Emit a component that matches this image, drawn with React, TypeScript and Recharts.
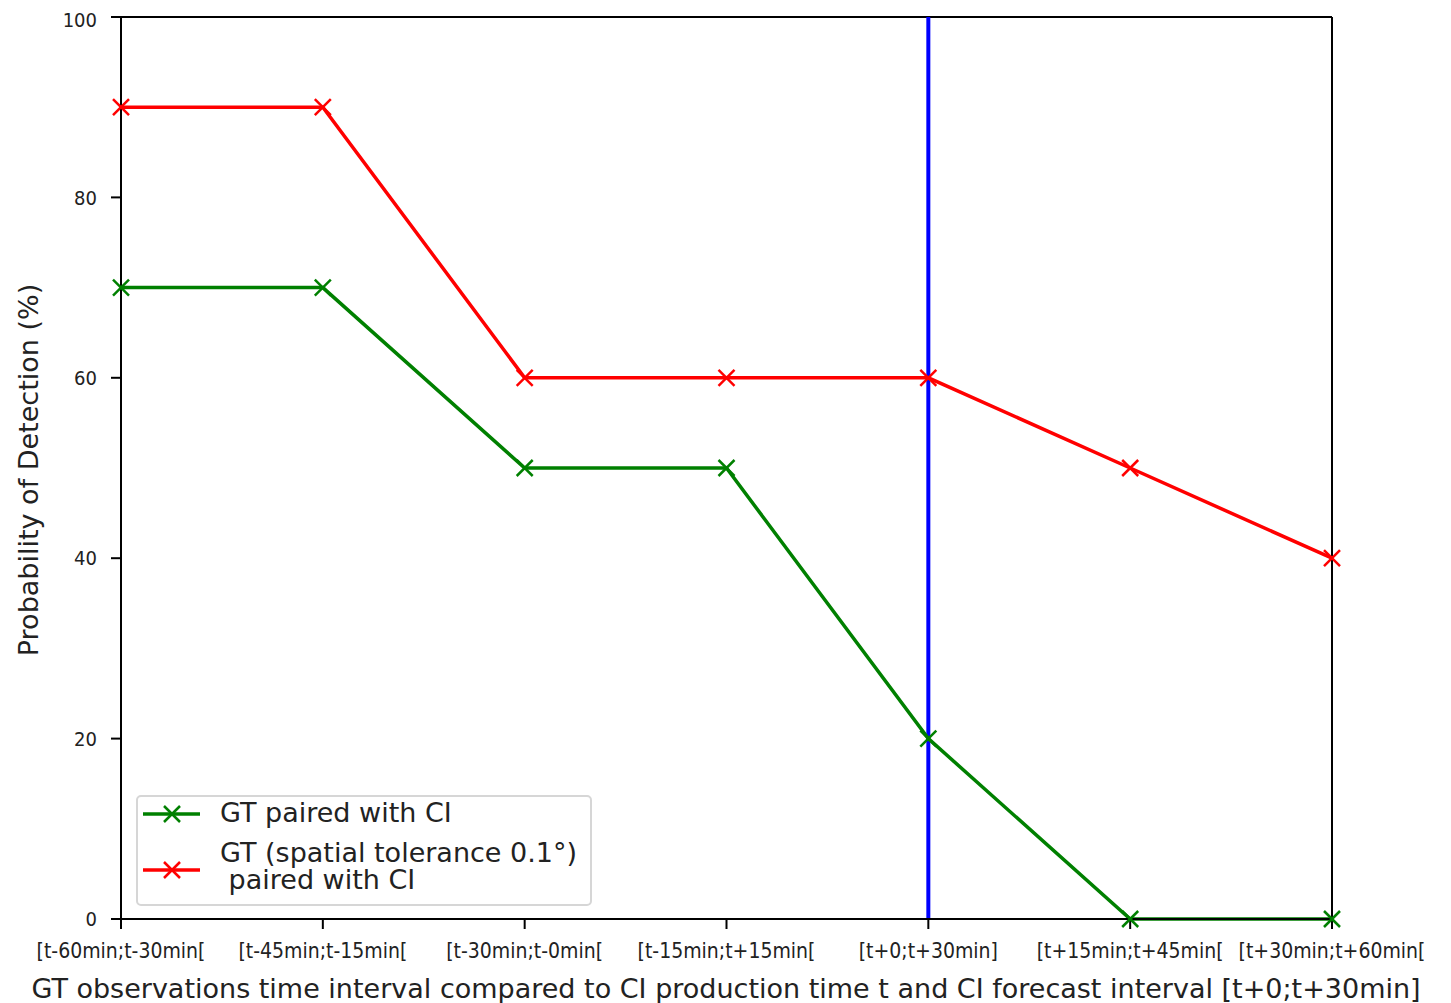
import React from 'react';
import { LineChart, Line, XAxis, YAxis, ReferenceLine } from 'recharts';

const intervals = [
  '[t-60min;t-30min[',
  '[t-45min;t-15min[',
  '[t-30min;t-0min[',
  '[t-15min;t+15min[',
  '[t+0;t+30min]',
  '[t+15min;t+45min[',
  '[t+30min;t+60min[',
];
const pairedWithCI = [70, 70, 50, 50, 20, 0, 0];
const toleranceWithCI = [90, 90, 60, 60, 60, 50, 40];
const yTicks = [0, 20, 40, 60, 80, 100];
const forecastStart = 4;

const data = intervals.map((label, i) => ({
  idx: i,
  label,
  paired: pairedWithCI[i],
  tolerance: toleranceWithCI[i],
}));

const GREEN = '#008000';
const RED = '#ff0000';
const BLUE = '#0000ff';
const TICK_FONT = '"DejaVu Sans Condensed", "Liberation Sans Narrow", "DejaVu Sans", sans-serif';
const MAIN_FONT = '"DejaVu Sans", sans-serif';

const Cross = ({ cx, cy, color }: any) => {
  if (cx == null || cy == null) return null;
  const s = 8;
  return (
    <g stroke={color} strokeWidth={2.5}>
      <line x1={cx - s} y1={cy - s} x2={cx + s} y2={cy + s} />
      <line x1={cx - s} y1={cy + s} x2={cx + s} y2={cy - s} />
    </g>
  );
};

// legend sits inside the axes, bottom-left, like matplotlib's loc="lower left"
const LegendBox = () => (
  <div
    style={{
      position: 'absolute',
      left: 128,
      top: 787,
      width: 456,
      height: 111,
      border: '2px solid #d6d6d6',
      borderRadius: 5,
      background: 'rgba(255,255,255,0.8)',
      fontFamily: MAIN_FONT,
      fontSize: 27,
      color: '#222',
      boxSizing: 'border-box',
    }}
  >
    <svg width={80} height={105} style={{ position: 'absolute', left: 0, top: 0 }}>
      <line x1={5} y1={17} x2={62} y2={17} stroke={GREEN} strokeWidth={3.5} />
      <Cross cx={34} cy={17} color={GREEN} />
      <line x1={5} y1={73} x2={62} y2={73} stroke={RED} strokeWidth={3.5} />
      <Cross cx={34} cy={73} color={RED} />
    </svg>
    <div style={{ position: 'absolute', left: 82, top: 0, whiteSpace: 'pre', lineHeight: '32px' }}>
      GT paired with CI
    </div>
    <div style={{ position: 'absolute', left: 82, top: 42, whiteSpace: 'pre', lineHeight: '27px' }}>
      {'GT (spatial tolerance 0.1°)\n paired with CI'}
    </div>
  </div>
);

export default function App() {
  return (
    <div style={{ position: 'relative', width: 1443, height: 995 }}>
      <LineChart
        width={1443}
        height={995}
        data={data}
        margin={{ top: 9, right: 119, bottom: 44, left: 53 }}
      >
        <XAxis
          dataKey="idx"
          type="number"
          domain={[0, 6]}
          ticks={data.map((d) => d.idx)}
          tickFormatter={(v: number) => intervals[v]}
          interval={0}
          height={40}
          stroke="#000"
          strokeWidth={2}
          tickSize={10}
          tick={{ fill: '#222', fontSize: 21, fontFamily: TICK_FONT }}
          tickMargin={14}
        />
        <YAxis
          type="number"
          domain={[0, 100]}
          ticks={yTicks}
          width={60}
          stroke="#000"
          strokeWidth={2}
          tickSize={10}
          tick={{ fill: '#222', fontSize: 20, fontFamily: TICK_FONT }}
          tickMargin={14}
        />
        <ReferenceLine y={100} stroke="#000" strokeWidth={2} />
        <ReferenceLine x={6} stroke="#000" strokeWidth={2} />
        <ReferenceLine x={forecastStart} stroke={BLUE} strokeWidth={4} />
        <Line
          dataKey="paired"
          stroke={GREEN}
          strokeWidth={3.5}
          isAnimationActive={false}
          dot={(p: any) => <Cross key={`g${p.index}`} cx={p.cx} cy={p.cy} color={GREEN} />}
          activeDot={false}
        />
        <Line
          dataKey="tolerance"
          stroke={RED}
          strokeWidth={3.5}
          isAnimationActive={false}
          dot={(p: any) => <Cross key={`r${p.index}`} cx={p.cx} cy={p.cy} color={RED} />}
          activeDot={false}
        />
      </LineChart>
      <LegendBox />
      <div
        style={{
          position: 'absolute',
          left: 20,
          top: 462,
          transform: 'translate(-50%, -50%) rotate(-90deg)',
          fontFamily: MAIN_FONT,
          fontSize: 27,
          color: '#222',
          whiteSpace: 'nowrap',
        }}
      >
        Probability of Detection (%)
      </div>
      <div
        style={{
          position: 'absolute',
          left: 718,
          top: 980,
          transform: 'translate(-50%, -50%)',
          fontFamily: MAIN_FONT,
          fontSize: 27,
          color: '#222',
          whiteSpace: 'nowrap',
        }}
      >
        GT observations time interval compared to CI production time t and CI forecast interval [t+0;t+30min]
      </div>
    </div>
  );
}
